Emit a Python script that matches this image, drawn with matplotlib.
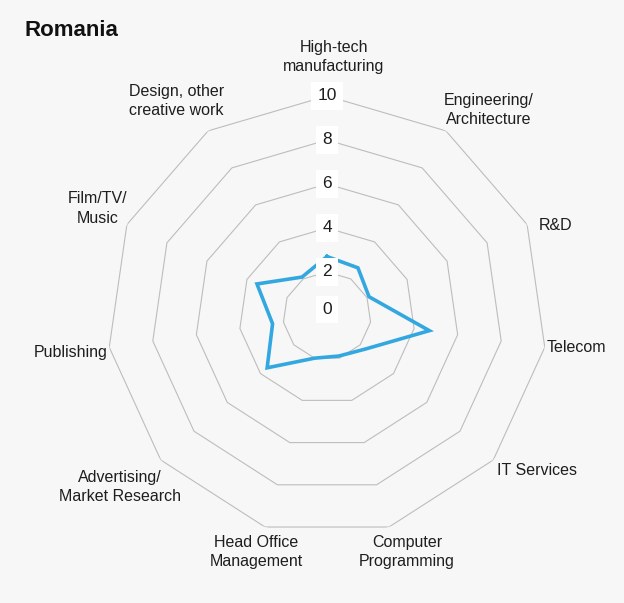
import matplotlib.pyplot as plt
import numpy as np

# values (scale 0-10)
categories = [
    "High-tech\nmanufacturing",
    "Engineering/\nArchitecture",
    "R&D",
    "Telecom",
    "IT Services",
    "Computer\nProgramming",
    "Head Office\nManagement",
    "Advertising/\nMarket Research",
    "Publishing",
    "Film/TV/\nMusic",
    "Design, other\ncreative work",
]
romania = [2.7, 2.6, 2.1, 4.7, 2.3, 1.9, 2.0, 3.6, 2.5, 3.5, 2.1]
rings = [2, 4, 6, 8, 10]
ring_labels = ["0", "2", "4", "6", "8", "10"]

# label offsets from the outer vertex, in pixels (x right, y down)
label_offsets = [
    (7, -39), (43, -21), (28, 1), (32, 0), (44, 10), (18, 25),
    (-9, 25), (-41, 27), (-39, 5), (-29, -16), (-32, -30),
]

BG = "#f7f7f7"
LINE = "#33a8e0"
GRID = "#bdbdbd"
TEXT = "#1e1e1e"

plt.rcParams["font.family"] = ["Liberation Sans", "DejaVu Sans"]

fig = plt.figure(figsize=(6.24, 6.03), dpi=100, facecolor=BG)
ax = fig.add_axes([0.1715, 0.1112, 0.7051, 0.7297], projection="polar")
ax.set_theta_zero_location("N")
ax.set_theta_direction(-1)
ax.patch.set_visible(False)
ax.spines["polar"].set_visible(False)
ax.grid(False)
ax.set_xticks([])
ax.set_yticks([])
ax.set_ylim(0, 10)

n = len(categories)
theta = np.linspace(0, 2 * np.pi, n, endpoint=False)
theta_closed = np.append(theta, theta[0])

# polygon grid
for r in rings:
    ax.plot(theta_closed, [r] * (n + 1), color=GRID, lw=0.8, zorder=1)

# data
vals = np.append(romania, romania[0])
ax.plot(theta_closed, vals, color=LINE, lw=2.6, solid_joinstyle="miter", zorder=3)

# ring value labels
for i, lab in enumerate(ring_labels):
    r = 0.3 if i == 0 else i * 2
    ax.text(0, r, lab, ha="center", va="center", fontsize=12.5, color=TEXT,
            zorder=4,
            bbox=dict(boxstyle="square,pad=0.35", fc="white", ec="none"))

# category labels
for t, lab, (dx, dy) in zip(theta, categories, label_offsets):
    ax.annotate(lab, xy=(t, 10), xytext=(dx, -dy), textcoords="offset pixels",
                ha="center", va="center", fontsize=11.5, color=TEXT,
                linespacing=1.35, annotation_clip=False)

fig.text(24 / 624, 1 - 31 / 603, "Romania", fontsize=16, fontweight="bold",
         color="#111111", ha="left", va="center")

fig.savefig("out.png", dpi=100, facecolor=BG)
